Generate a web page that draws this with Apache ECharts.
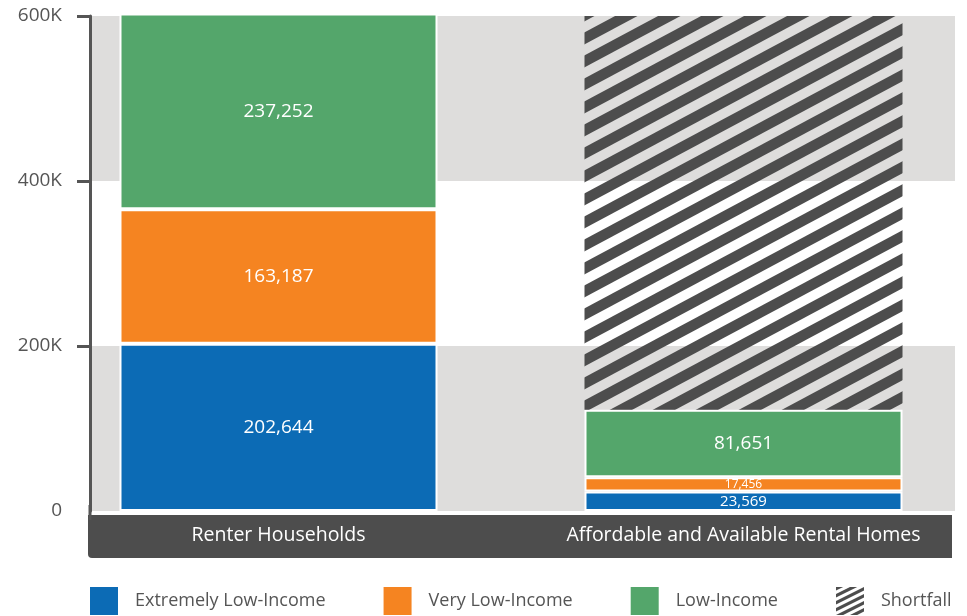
<!DOCTYPE html>
<html><head><meta charset="utf-8">
<script src="https://cdn.jsdelivr.net/npm/echarts@6/dist/echarts.min.js"></script>
<style>html,body{margin:0;padding:0;background:#fff}#c{width:967px;height:616px}</style>
</head><body><div id="c"></div>
<script>
const categories = ['Renter Households', 'Affordable and Available Rental Homes'];
const extremelyLow = [202644, 23569];
const veryLow = [163187, 17456];
const lowIncome = [237252, 81651];
const shortfall = [null, 477324];
const yTicks = [0, 200000, 400000, 600000];
const seriesNames = ['Extremely Low-Income', 'Very Low-Income', 'Low-Income', 'Shortfall'];

const FONT = 'Open Sans';

function hatchCanvas(W, H, t) {
  const cv = document.createElement('canvas');
  cv.width = W; cv.height = H;
  const ctx = cv.getContext('2d');
  ctx.fillStyle = '#4d4d4d';
  for (let k = -2; k <= 2; k++) {
    const c = k * H;
    ctx.beginPath();
    ctx.moveTo(0, c);
    ctx.lineTo(W, c - H);
    ctx.lineTo(W, c - H + t);
    ctx.lineTo(0, c + t);
    ctx.closePath();
    ctx.fill();
  }
  return cv;
}
function legendHatch() {
  const S = 28;
  const cv = document.createElement('canvas');
  cv.width = S; cv.height = S;
  const ctx = cv.getContext('2d');
  ctx.fillStyle = '#4d4d4d';
  for (let k = -4; k <= 8; k++) {
    const c = k * 7;
    ctx.beginPath();
    ctx.moveTo(0, c);
    ctx.lineTo(S, c - 14);
    ctx.lineTo(S, c - 14 + 3.6);
    ctx.lineTo(0, c + 3.6);
    ctx.closePath();
    ctx.fill();
  }
  return cv.toDataURL();
}

const chart = echarts.init(document.getElementById('c'), null, { renderer: 'canvas' });
const fmt = v => v.toLocaleString('en-US');
const barLabel = { show: true, position: 'inside', color: '#fff', fontSize: 19, fontFamily: FONT, formatter: p => fmt(p.value) };
// smaller label text for thin segments so labels do not collide
const withLabelSize = arr => arr.map(v => {
  if (v == null) return v;
  if (v < 20000) return { value: v, label: { fontSize: 12, lineHeight: 12 } };
  if (v < 30000) return { value: v, label: { fontSize: 15, lineHeight: 15 } };
  return v;
});
const baseItem = { borderColor: '#fff', borderWidth: 2 };
const colors = ['#0c6bb5', '#f58421', '#54a66b'];
const BW = 318;
const yMin = yTicks[0], yMax = yTicks[yTicks.length - 1], yStep = yTicks[1] - yTicks[0];

chart.setOption({
  animation: false,
  textStyle: { fontFamily: FONT },
  grid: [
    { left: 90, right: 12, top: 16, bottom: 105, outerBoundsMode: 'none' },
    { left: 46, width: 930, top: 16, bottom: 105, outerBoundsMode: 'none' }
  ],
  xAxis: [
    { gridIndex: 0, type: 'category', data: [''], show: false },
    { gridIndex: 1, type: 'category', data: categories, z: 10,
      axisLine: { show: false }, axisTick: { show: false },
      axisLabel: { color: '#fff', fontSize: 19.5, fontFamily: FONT, margin: 24, verticalAlign: 'middle' } }
  ],
  yAxis: [
    { gridIndex: 0, type: 'value', min: yMin, max: yMax, interval: yStep, z: 5,
      axisLine: { show: true, lineStyle: { color: '#555', width: 3 } },
      axisTick: { show: true, length: 13, lineStyle: { color: '#555', width: 3 }, customValues: yTicks.slice(1) },
      axisLabel: { color: '#555', fontSize: 19, fontFamily: FONT, margin: 28,
        formatter: v => v === 0 ? '0' : (v / 1000) + 'K' },
      splitLine: { show: false }, splitArea: { show: false } },
    { gridIndex: 1, type: 'value', min: yMin, max: yMax, show: false },
    { gridIndex: 0, type: 'value', min: yMin, max: yMax, interval: yStep, position: 'right', z: 0,
      axisLine: { show: false }, axisTick: { show: false }, axisLabel: { show: false },
      splitLine: { show: false },
      splitArea: { show: true, areaStyle: { color: ['#dedddc', '#ffffff'] } } }
  ],
  legend: {
    data: [
      { name: seriesNames[0] }, { name: seriesNames[1] }, { name: seriesNames[2] },
      { name: seriesNames[3], icon: 'image://' + legendHatch() }
    ],
    left: 90, top: 587, padding: 0, itemWidth: 28, itemHeight: 28, itemGap: 58, icon: 'rect',
    itemStyle: { borderWidth: 0 },
    textStyle: { color: '#555', fontSize: 18, fontFamily: FONT, padding: [0, 0, 0, 12] }
  },
  graphic: [
    { type: 'rect', z: 1, shape: { x: 88, y: 515, width: 864, height: 43, r: [0, 0, 0, 4] }, style: { fill: '#4d4d4d' } },
    { type: 'line', z: 1, shape: { x1: 90, y1: 505, x2: 90, y2: 520 }, style: { stroke: '#555', lineWidth: 3 } }
  ],
  series: [
    { name: seriesNames[0], type: 'bar', stack: 't', xAxisIndex: 1, yAxisIndex: 1, barWidth: BW, clip: false,
      data: withLabelSize(extremelyLow), itemStyle: Object.assign({ color: colors[0] }, baseItem), label: barLabel },
    { name: seriesNames[1], type: 'bar', stack: 't', xAxisIndex: 1, yAxisIndex: 1, barWidth: BW, clip: false,
      data: withLabelSize(veryLow), itemStyle: Object.assign({ color: colors[1] }, baseItem), label: barLabel },
    { name: seriesNames[2], type: 'bar', stack: 't', xAxisIndex: 1, yAxisIndex: 1, barWidth: BW, clip: false,
      data: withLabelSize(lowIncome), itemStyle: Object.assign({ color: colors[2] }, baseItem), label: barLabel },
    { name: seriesNames[3], type: 'bar', stack: 't', xAxisIndex: 1, yAxisIndex: 1, barWidth: BW, clip: false,
      data: shortfall, itemStyle: { color: { image: hatchCanvas(43, 23, 12), repeat: 'repeat' }, borderWidth: 0 },
      label: { show: false } }
  ]
});
</script></body></html>
